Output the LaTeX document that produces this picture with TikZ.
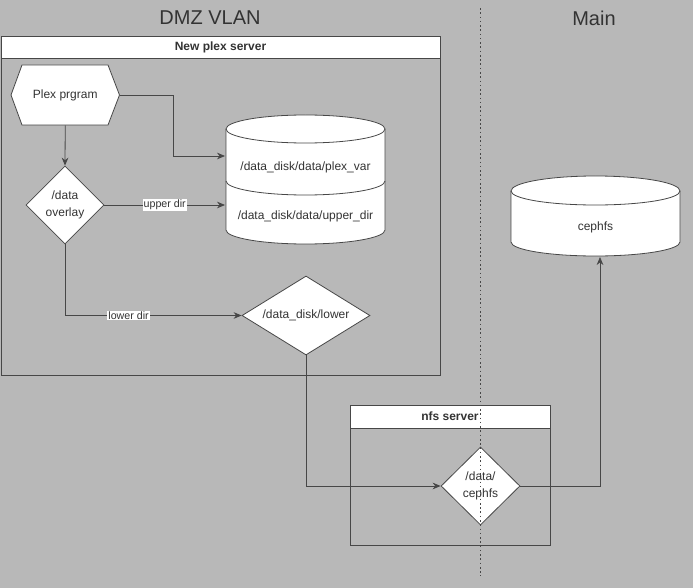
\documentclass[tikz,border=0pt]{standalone}
\usepackage{fontspec}
\setmainfont{Liberation Sans}
\usetikzlibrary{shapes.geometric,arrows.meta}
\definecolor{bggray}{HTML}{B8B8B8}
\definecolor{ink}{HTML}{333333}
\begin{document}
\begin{tikzpicture}[x=0.75pt,y=-0.75pt,
        line/.style={draw=ink!90,line width=0.6pt},
        arr/.style={line,-{Stealth[length=6pt,width=5pt]}},
        lbl/.style={fill=white,inner sep=0.8pt,font=\fontsize{8}{9}\selectfont,text=ink},
        dia/.style={diamond,line,fill=white,inner sep=0pt,align=center,font=\fontsize{9}{12.5}\selectfont,text=ink},
        head/.style={line,fill=white,font=\bfseries\fontsize{9}{11}\selectfont,text=ink}]
            \fill[bggray] (0,0) rectangle (693,588);
            \useasboundingbox (0,0) rectangle (693,588);

            \node[text=ink,font=\fontsize{15}{18}\selectfont] (dmz) at (210,18) {DMZ VLAN};
            \node[text=ink,font=\fontsize{15}{18}\selectfont] (main) at (594,18) {Main};

            \draw[line] (1,36) rectangle (440,375);
            \draw[head] (1,36) rectangle (440,58);
            \node[text=ink,font=\bfseries\fontsize{9}{11}\selectfont] (plexsrv) at (220.5,47) {New plex server};

            \draw[line] (350,405) rectangle (550,545);
            \draw[head] (350,405) rectangle (550,428);
            \node[text=ink,font=\bfseries\fontsize{9}{11}\selectfont] (nfssrv) at (450,416.5) {nfs server};

            \draw[line,fill=white] (11,95) -- (22,65) -- (108,65) -- (119.5,95) -- (108,125) -- (22,125) -- cycle;
            \node[minimum width=81.4pt,minimum height=45pt,inner sep=0pt,text=ink,font=\fontsize{9}{11}\selectfont] (plex) at (65.25,95) {Plex prgram};

            \draw[line,fill=white] (226,129) -- (226,230) arc[start angle=180,end angle=0,x radius=79.5,y radius=14] -- (385,129) arc[start angle=0,end angle=-180,x radius=79.5,y radius=14] -- cycle;
            \draw[line] (226,129) arc[start angle=180,end angle=0,x radius=79.5,y radius=14];
            \draw[line] (226,181) arc[start angle=180,end angle=0,x radius=79.5,y radius=14];
            \node[text=ink,font=\fontsize{9}{11}\selectfont] (plexvar) at (305.5,167) {/data\_disk/data/plex\_var};
            \node[text=ink,font=\fontsize{9}{11}\selectfont] (upperdir) at (305.5,216) {/data\_disk/data/upper\_dir};
            \coordinate (plexvarin) at (225,156);
            \coordinate (upperin) at (225,205);

            \draw[line,fill=white] (511,191) -- (511,242) arc[start angle=180,end angle=0,x radius=84.5,y radius=14] -- (680,191) arc[start angle=0,end angle=-180,x radius=84.5,y radius=15] -- cycle;
            \draw[line] (511,191) arc[start angle=180,end angle=0,x radius=84.5,y radius=14];
            \node[text=ink,font=\fontsize{9}{11}\selectfont] (cephfs) at (595.5,227) {cephfs};
            \coordinate (cephin) at (600,257);

            \node[dia,minimum width=58.5pt,minimum height=58.5pt] (overlay) at (65,205) {/data\\overlay};
            \node[dia,aspect=1.62,minimum width=96pt,minimum height=59.25pt] (lower) at (306,315.5) {/data\_disk/lower};
            \node[dia,minimum width=59.25pt,minimum height=58.5pt] (nfsdata) at (480.5,486) {/data/\\cephfs};

            \draw[arr] (plex.east) -- (173,95) |- (plexvarin);
            \draw[arr] (plex.south) -- (overlay.north);
            \draw[arr] (overlay.east) -- node[lbl] {upper dir} (upperin);
            \draw[arr] (overlay.south) |- node[lbl,pos=0.68] {lower dir} (lower.west);
            \draw[arr] (lower.south) |- (nfsdata.west);
            \draw[arr] (nfsdata.east) -| (cephin);

            \draw[ink!90,line width=0.6pt,dash pattern=on 1.2pt off 2pt] (480,8) -- (480,576);
        \end{tikzpicture}
\end{document}
